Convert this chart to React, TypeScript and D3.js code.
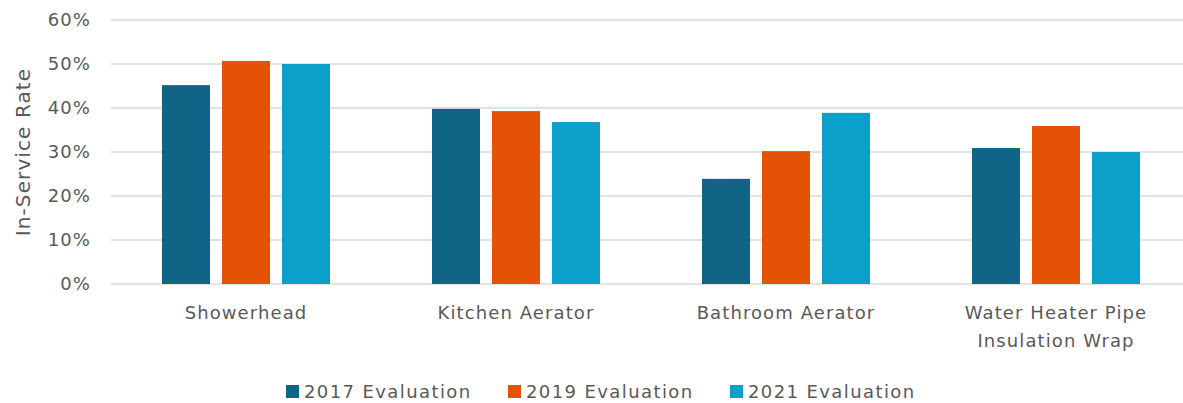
import React, { useEffect, useRef } from "react";
import * as d3 from "d3";

const categories = ["Showerhead", "Kitchen Aerator", "Bathroom Aerator", "Water Heater Pipe\nInsulation Wrap"];
const seriesNames = ["2017 Evaluation", "2019 Evaluation", "2021 Evaluation"];
const values2017 = [0.452, 0.398, 0.239, 0.309];
const values2019 = [0.507, 0.393, 0.302, 0.359];
const values2021 = [0.500, 0.368, 0.389, 0.300];
const yTicks = [0, 0.1, 0.2, 0.3, 0.4, 0.5, 0.6];
const colors = ["#106587", "#E35205", "#0BA0C9"];

const W = 1183, H = 403;
const FONT = "'DejaVu Sans', sans-serif";
const TEXT = "#595959";
const LS = 1.1;

export default function App() {
  const ref = useRef<SVGSVGElement>(null);
  useEffect(() => {
    const svg = d3.select(ref.current);
    svg.selectAll("*").remove();
    const left = 111, right = 1191, top = 20, bottom = 284;
    const x = d3.scaleBand<string>().domain(categories).range([left, right]);
    const y = d3.scaleLinear().domain([0, 0.6]).range([bottom, top]);
    const barW = 48, gap = 12;
    const series = [values2017, values2019, values2021];

    svg.append("g").selectAll("line").data(yTicks).join("line")
      .attr("x1", left).attr("x2", right)
      .attr("y1", d => y(d)).attr("y2", d => y(d))
      .attr("stroke", "#D9D9D9").attr("stroke-width", 1.5);

    svg.append("g").selectAll("text").data(yTicks).join("text")
      .attr("x", 91).attr("y", d => y(d)).attr("dy", "0.36em")
      .attr("text-anchor", "end").attr("font-family", FONT).attr("font-size", 18)
      .attr("letter-spacing", LS)
      .attr("fill", TEXT).text(d => d3.format(".0%")(d));

    const groupW = barW * 3 + gap * 2;
    series.forEach((vals, si) => {
      svg.append("g").selectAll("rect").data(vals).join("rect")
        .attr("x", (d, i) => x(categories[i])! + x.bandwidth() / 2 - groupW / 2 + si * (barW + gap))
        .attr("y", d => y(d)).attr("width", barW).attr("height", d => bottom - y(d))
        .attr("fill", colors[si]);
    });

    const xl = svg.append("g");
    categories.forEach(c => {
      const lines = c.split("\n");
      const t = xl.append("text").attr("text-anchor", "middle").attr("font-family", FONT)
        .attr("font-size", 18).attr("letter-spacing", LS).attr("fill", TEXT);
      lines.forEach((ln, i) => {
        t.append("tspan").attr("x", x(c)! + x.bandwidth() / 2).attr("y", 319 + i * 28).text(ln);
      });
    });

    svg.append("text").attr("transform", `translate(30,${(top + bottom) / 2}) rotate(-90)`)
      .attr("text-anchor", "middle").attr("font-family", FONT).attr("font-size", 20)
      .attr("letter-spacing", 1.1)
      .attr("fill", TEXT).text("In-Service Rate");

    const legX = [286, 508, 730];
    seriesNames.forEach((n, i) => {
      svg.append("rect").attr("x", legX[i]).attr("y", 385).attr("width", 13).attr("height", 13)
        .attr("fill", colors[i]);
      svg.append("text").attr("x", legX[i] + 18).attr("y", 398)
        .attr("font-family", FONT).attr("font-size", 18).attr("letter-spacing", 1.4)
        .attr("fill", TEXT).text(n);
    });
  }, []);
  return (
    <svg ref={ref} width={W} height={H} style={{ position: "absolute", left: 0, top: 0, background: "#fff" }} />
  );
}
